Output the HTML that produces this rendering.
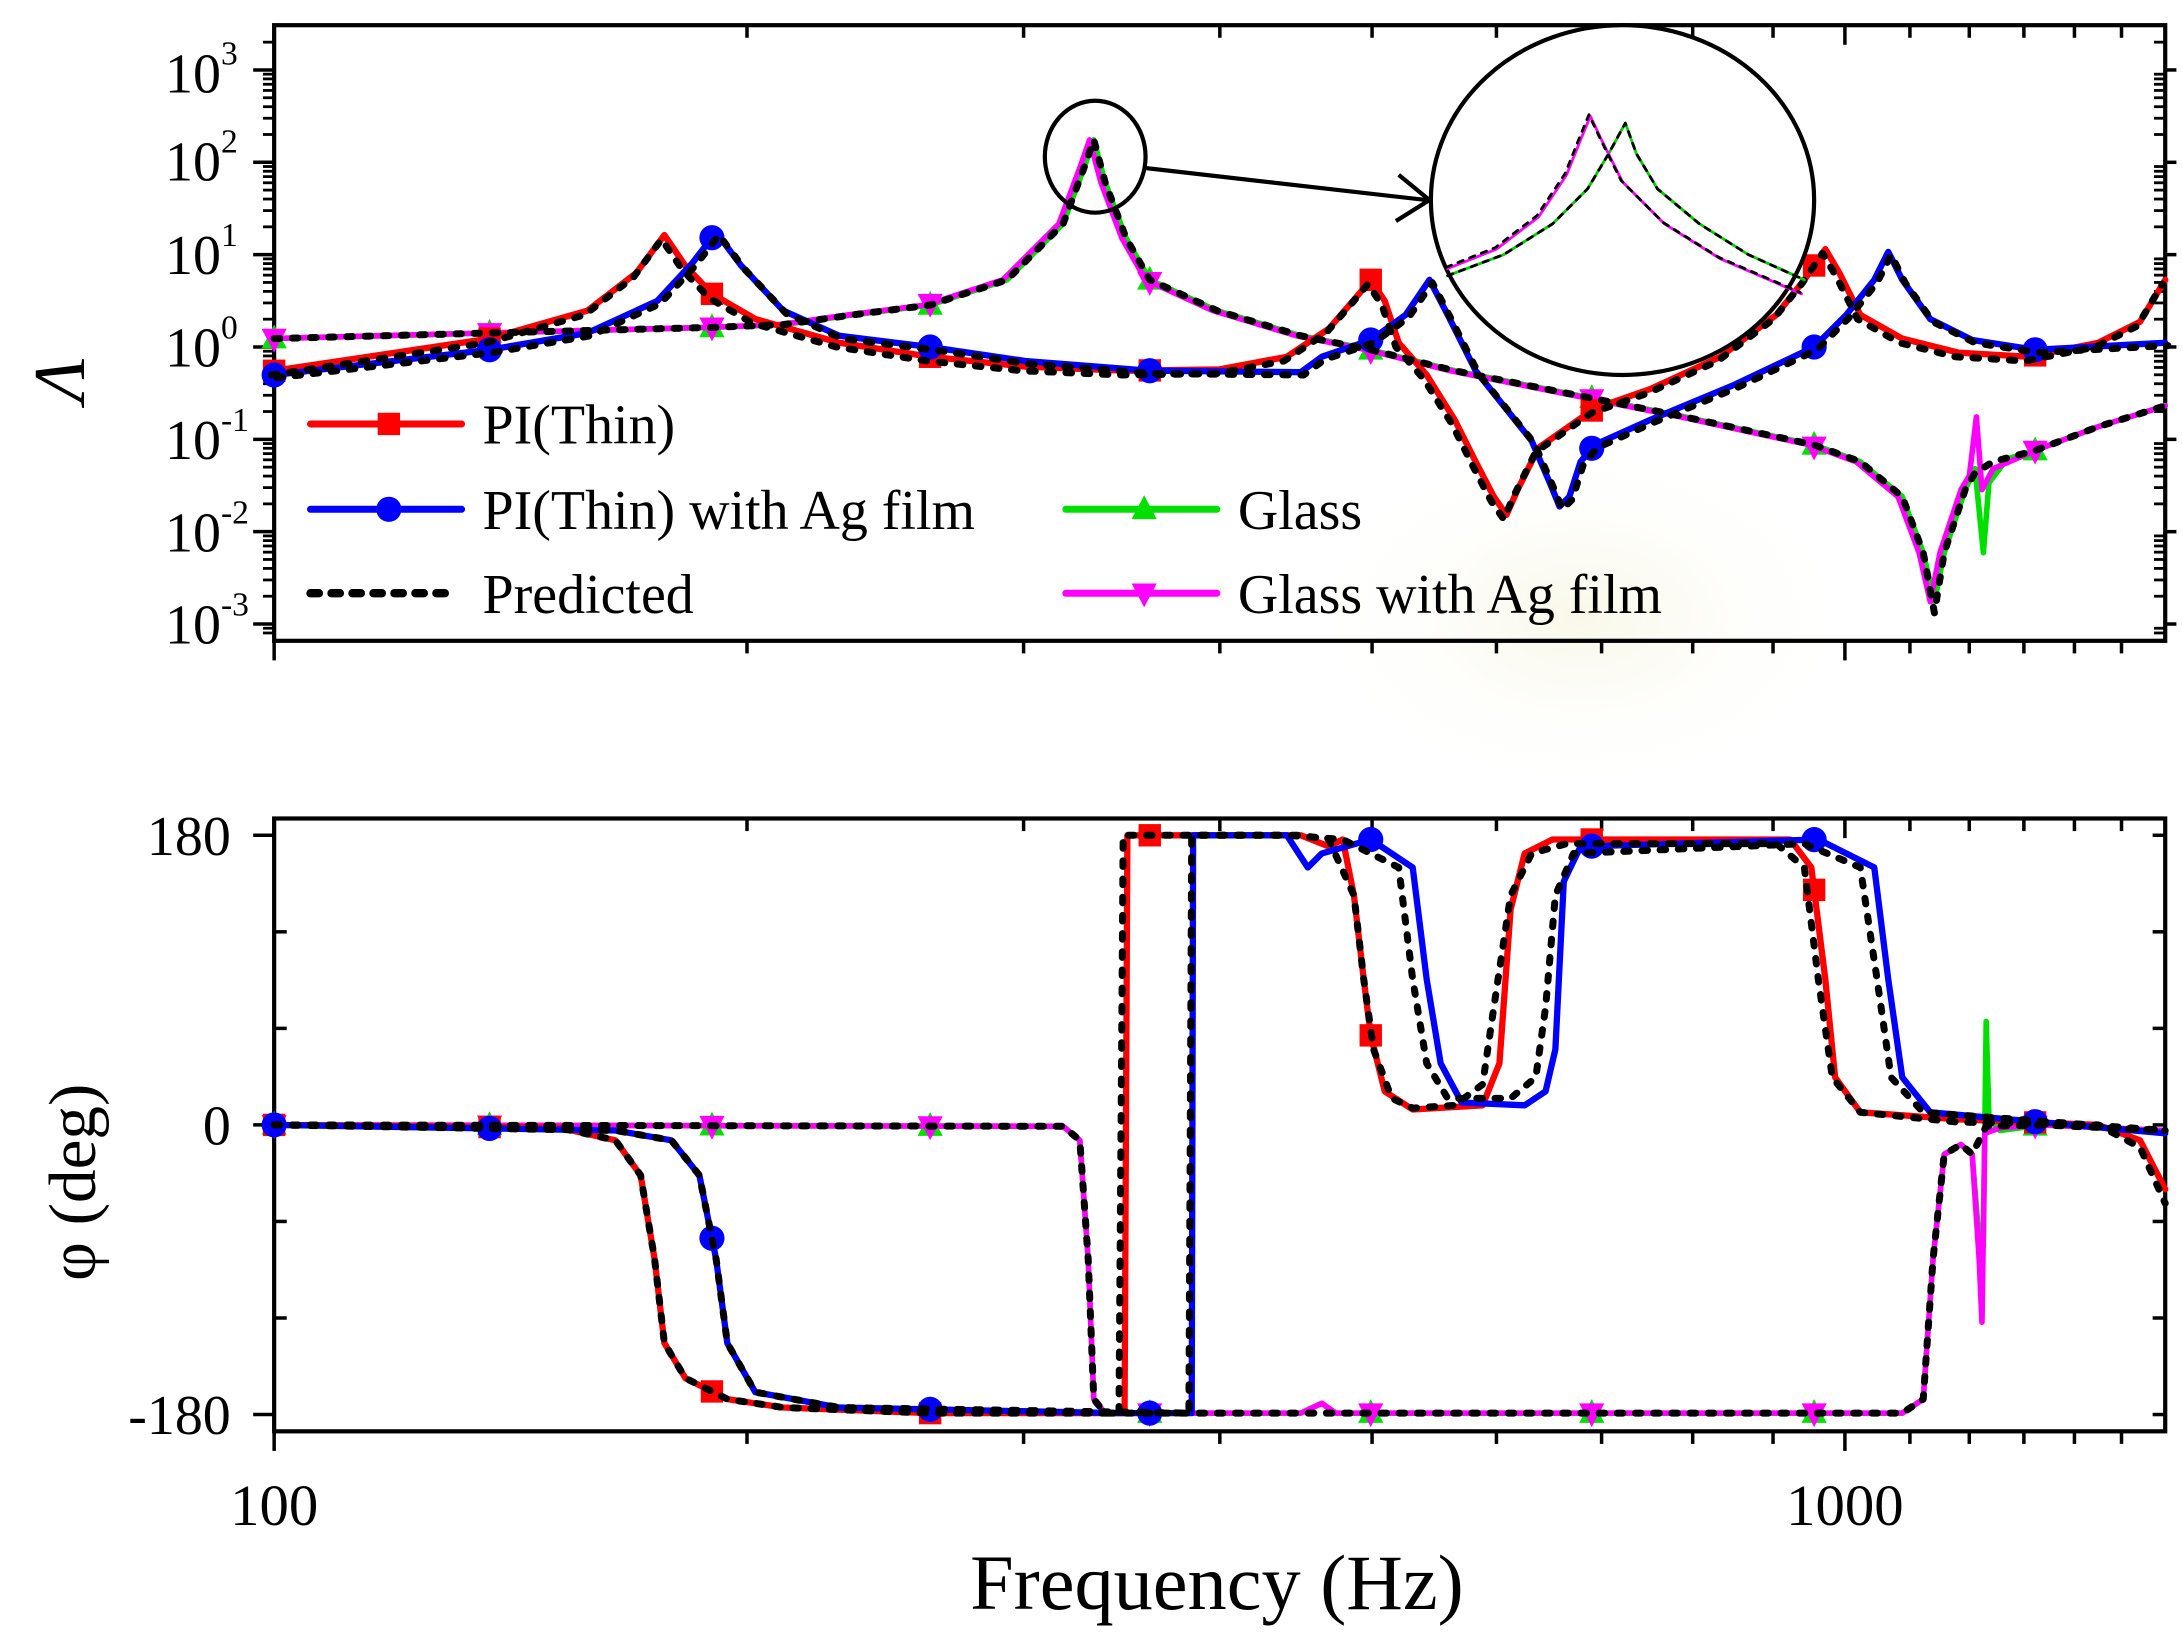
<!DOCTYPE html>
<html><head><meta charset="utf-8"><style>
html,body{margin:0;padding:0;background:#fff;}
svg{display:block;}
text{font-family:"Liberation Serif",serif;fill:#000;}
</style></head><body>
<svg id="s" width="2182" height="1637" viewBox="0 0 1560 1170" preserveAspectRatio="none" xmlns="http://www.w3.org/2000/svg">
<defs>
<radialGradient id="glow" cx="0.5" cy="0.5" r="0.5">
<stop offset="0" stop-color="#f7f6e2" stop-opacity="0.8"/>
<stop offset="1" stop-color="#ffffff" stop-opacity="0"/>
</radialGradient>
</defs>
<rect width="1560" height="1170" fill="#fff"/>
<ellipse cx="1130" cy="440" rx="200" ry="130" fill="url(#glow)"/>
<g id="g"></g>
</svg>
<script>
const NS="http://www.w3.org/2000/svg";
const G=document.getElementById('g');
function el(t,a,txt){const e=document.createElementNS(NS,t);for(const k in a)e.setAttribute(k,a[k]);if(txt!==undefined)e.textContent=txt;G.appendChild(e);return e;}
function X(f){return 196+1123*Math.log10(f/100);}
const L=196,R=1548;
el('rect',{x:L,y:18,width:R-L,height:440,fill:'none',stroke:'#000','stroke-width':3});
el('rect',{x:L,y:585,width:R-L,height:438,fill:'none',stroke:'#000','stroke-width':3});
const minors=[200,300,400,500,600,700,800,900,1100,1200,1300,1400,1500];
for(const [t,b] of [[18,458],[585,1023]]){
  for(const f of [100,1000].concat(minors)){
    const x=X(f); const maj=(f==100||f==1000);
    el('line',{x1:x,y1:t,x2:x,y2:t+(maj?14:9),stroke:'#000','stroke-width':2.5});
    el('line',{x1:x,y1:b,x2:x,y2:b+(maj?14:9),stroke:'#000','stroke-width':2.5});
  }
}
for(let d=-4;d<=3;d++){
  const y0=248-66*d;
  if(y0>=18&&y0<=458){
    el('line',{x1:L-15,y1:y0,x2:L,y2:y0,stroke:'#000','stroke-width':2.5});
    el('line',{x1:R,y1:y0,x2:R+8,y2:y0,stroke:'#000','stroke-width':2.5});
  }
  for(let m=2;m<=9;m++){
    const y=y0-66*Math.log10(m);
    if(y>=20&&y<=456){
      el('line',{x1:L-8,y1:y,x2:L,y2:y,stroke:'#000','stroke-width':2});
      el('line',{x1:R-8,y1:y,x2:R,y2:y,stroke:'#000','stroke-width':2});
    }
  }
}
const ylab=[[3,52],[2,115],[1,182],[0,248],[-1,314],[-2,380],[-3,446]];
for(const [d,y] of ylab){
  el('text',{x:158,y:y+14,'font-size':40,'text-anchor':'end'},'10');
  el('text',{x:158,y:y-6,'font-size':24,'text-anchor':'start'},String(d));
}
for(const p of [-180,-120,-60,0,60,120,180]){
  const y=804-p*207/180; const maj=(p%180==0);
  el('line',{x1:L-(maj?15:0),y1:y,x2:L+(maj?0:9),y2:y,stroke:'#000','stroke-width':2.5});
  el('line',{x1:R-9,y1:y,x2:R,y2:y,stroke:'#000','stroke-width':2.5});
}
el('text',{x:165,y:611,'font-size':40,'text-anchor':'end'},'180');
el('text',{x:165,y:818,'font-size':40,'text-anchor':'end'},'0');
el('text',{x:165,y:1025,'font-size':40,'text-anchor':'end'},'-180');
el('text',{x:196,y:1090,'font-size':42,'text-anchor':'middle'},'100');
el('text',{x:1319,y:1090,'font-size':42,'text-anchor':'middle'},'1000');
el('text',{x:870,y:1150,'font-size':56,'text-anchor':'middle'},'Frequency (Hz)');
el('text',{x:0,y:0,'font-size':52,'font-style':'italic',transform:'translate(60,272) rotate(-90)','text-anchor':'middle'},'Λ');
el('text',{x:0,y:0,'font-size':48,transform:'translate(68,845) rotate(-90)','text-anchor':'middle'},'φ (deg)');

const red=[[196,265],[350,242],[420,222],[455,195],[475,168],[490,190],[509,210],[540,228],[600,245],[665,255],[733,262],[805,265],[872,264],[920,255],[950,235],[970,212],[980,200],[990,215],[1000,245],[1020,268],[1040,300],[1055,330],[1068,355],[1077,368],[1085,350],[1100,320],[1140,292],[1180,278],[1230,255],[1270,225],[1290,200],[1305,178],[1315,195],[1330,225],[1360,242],[1400,252],[1450,255],[1500,245],[1530,230],[1548,200]];
const blue=[[196,268],[350,250],[420,238],[470,215],[495,188],[512,166],[530,190],[560,222],[600,240],[665,248],[733,258],[822,265],[930,266],[945,255],[980,243],[1005,225],[1022,200],[1035,225],[1055,265],[1075,290],[1095,315],[1108,345],[1115,362],[1122,355],[1130,330],[1140,318],[1180,300],[1240,275],[1297,248],[1320,225],[1340,200],[1350,180],[1360,200],[1380,228],[1410,243],[1455,250],[1548,245]];
const glassBase=[[196,242],[350,238],[509,234],[560,232],[610,225],[665,218],[720,200],[760,160],[775,120],[782,100],[790,130],[805,170],[822,200],[870,222],[930,240],[980,250],[1040,265],[1140,285],[1200,297],[1297,318],[1330,330],[1360,355],[1375,395],[1383,430],[1390,395],[1405,350]];
const green=glassBase.concat([[1412,335],[1418,395],[1422,345],[1435,328],[1455,322],[1500,305],[1548,290]]);
const mag=glassBase.map(p=>[p[0]-3,p[1]]).concat([[1408,340],[1413,298],[1417,350],[1425,335],[1455,322],[1500,305],[1548,290]]);
const predG=glassBase.map(p=>p[0]==1383?[1383,438]:p).concat([[1412,338],[1425,330],[1455,322],[1500,305],[1548,290]]);

const pred=[[196,804],[400,806],[440,815],[458,840],[468,900],[475,960],[490,985],[520,1000],[560,1006],[665,1010],[800,1010],[803,597],[930,597],[950,600],[968,640],[975,700],[982,750],[995,785],[1010,792],[1040,790],[1060,775],[1068,720],[1080,640],[1095,610],[1120,603],[1270,603],[1290,620],[1300,700],[1310,770],[1330,795],[1400,802],[1500,804],[1530,820],[1548,860]];
const rp=[[196,804],[400,806],[440,815],[458,840],[468,900],[475,960],[490,985],[520,1000],[560,1006],[665,1010],[804,1010],[806,597],[930,597],[950,605],[960,600],[968,640],[975,700],[980,740],[990,780],[1010,793],[1060,790],[1072,760],[1080,650],[1090,610],[1110,600],[1280,600],[1295,620],[1305,700],[1312,770],[1330,795],[1400,800],[1500,804],[1530,815],[1548,850]];
const bp=[[196,804],[440,808],[480,815],[500,840],[512,900],[520,960],[540,995],[600,1006],[800,1010],[852,1010],[853,597],[920,597],[935,620],[945,610],[980,600],[1010,620],[1020,700],[1030,760],[1045,788],[1090,790],[1105,780],[1112,750],[1118,630],[1130,605],[1300,600],[1340,620],[1350,700],[1360,770],[1380,795],[1548,810]];
const predB=[[196,804],[440,808],[480,815],[500,840],[512,900],[520,960],[540,995],[600,1006],[850,1010],[852,597],[920,597],[960,600],[1000,620],[1010,700],[1020,760],[1035,785],[1080,785],[1098,770],[1105,720],[1112,640],[1125,610],[1290,603],[1330,620],[1342,700],[1352,770],[1375,795],[1548,808]];
const gpBase=[[196,804],[760,805],[772,815],[778,900],[782,1000],[790,1010],[930,1010],[945,1003],[955,1010],[1360,1010],[1375,1000],[1382,900],[1390,825],[1402,818],[1410,825]];
const gp=gpBase.concat([[1416,900],[1418,890],[1420,730],[1422,800],[1430,808],[1460,804],[1548,808]]);
const mp=gpBase.concat([[1415,900],[1417,945],[1419,810],[1430,806],[1460,804],[1548,808]]);
const predGP=gpBase.filter(p=>p[0]!=945).concat([[1420,805],[1460,804],[1548,808]]);

function path(pts){return 'M'+pts.map(p=>p[0].toFixed(1)+','+p[1].toFixed(1)).join(' L');}
function line(pts,c,w,dash){const a={d:path(pts),fill:'none',stroke:c,'stroke-width':w,'stroke-linejoin':'round','stroke-linecap':'round'};if(dash)a['stroke-dasharray']=dash;el('path',a);}
function yAt(pts,x){for(let i=1;i<pts.length;i++){if(pts[i][0]>=x){const a=pts[i-1],b=pts[i];if(b[0]==a[0])return b[1];return a[1]+(b[1]-a[1])*(x-a[0])/(b[0]-a[0]);}}return pts[pts.length-1][1];}
function marker(type,x,y,c){
  if(type=='sq')el('rect',{x:x-8,y:y-8,width:16,height:16,fill:c});
  else if(type=='ci')el('circle',{cx:x,cy:y,r:9,fill:c});
  else if(type=='up')el('path',{d:`M${x},${y-10} L${x+9},${y+7} L${x-9},${y+7}Z`,fill:c});
  else el('path',{d:`M${x-9},${y-7} L${x+9},${y-7} L${x},${y+10}Z`,fill:c});
}
const mx=[196,350,509,665,822,980,1138,1297,1455];
function series(pts,c,type,w){line(pts,c,w||4.5);for(const x of mx)marker(type,x,yAt(pts,x),c);}
const DS='4 9';
series(green,'#00e000','up',4);
series(mag,'#ff00ff','dn',4);
series(red,'#ff0000','sq');
series(blue,'#0000ff','ci');
line(red.map(p=>[p[0]-2,p[1]+3]),'#000',5,DS);
line(blue.map(p=>[p[0]+2,p[1]+2]),'#000',5,DS);
line(predG,'#000',5,DS);
series(gp,'#00e000','up',4);
series(mp,'#ff00ff','dn',4);
series(rp,'#ff0000','sq');
series(bp,'#0000ff','ci');
line(pred,'#000',5,DS);
line(predB,'#000',5,DS);
line(predGP,'#000',5,DS);

el('ellipse',{cx:783,cy:112,rx:36,ry:40,fill:'none',stroke:'#000','stroke-width':3});
el('line',{x1:818,y1:120,x2:1020,y2:143,stroke:'#000','stroke-width':3});
el('path',{d:'M1000,125 L1022,143 L998,158',fill:'none',stroke:'#000','stroke-width':3});
el('ellipse',{cx:1160,cy:143,rx:137,ry:125,fill:'#fff',stroke:'#000','stroke-width':3});
const inM=[[1035,192],[1070,178],[1100,155],[1120,125],[1130,100],[1137,83],[1145,100],[1160,130],[1190,160],[1230,185],[1288,210]];
const inG=[[1035,197],[1075,182],[1110,160],[1135,135],[1150,110],[1162,88],[1170,110],[1185,135],[1215,160],[1250,182],[1290,200]];
line(inG,'#00d000',2);line(inG,'#000',2,'4 5');
line(inM,'#ff00ff',2);line(inM.map(p=>[p[0]-1,p[1]-1]),'#000',2,'4 5');

function leg(x,y,c,type,txt,dash){
  if(dash)line([[x,y],[x+104],[x+104,y]].filter(p=>p.length==2),'#000',6,'6 9');
  else{line([[x,y],[x+108,y]],c,5);marker(type,x+56,y,c);}
  el('text',{x:x+123,y:y+14,'font-size':40},txt);
}
leg(222,303,'#ff0000','sq','PI(Thin)');
leg(222,364,'#0000ff','ci','PI(Thin) with Ag film');
leg(222,424,'#000','', 'Predicted',true);
leg(762,364,'#00e000','up','Glass');
leg(762,424,'#ff00ff','dn','Glass with Ag film');
</script>
</body></html>
